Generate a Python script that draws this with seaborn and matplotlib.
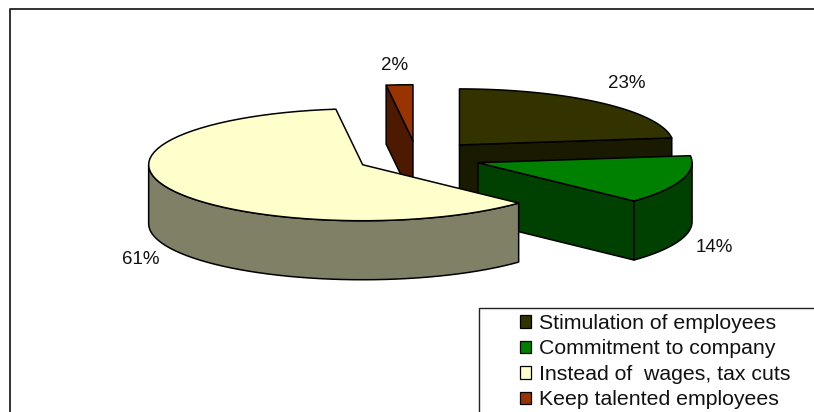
import numpy as np
import matplotlib
matplotlib.use('Agg')
import matplotlib.pyplot as plt
from matplotlib.patches import Patch
import seaborn as sns

categories = ['Stimulation of employees', 'Commitment to company',
              'Instead of  wages, tax cuts', 'Keep talented employees']
values = [23, 14, 61, 2]

top_colors = ['#333300', '#008000', '#FFFFCC', '#993300']
side_colors = ['#1A1A00', '#004000', '#808066', '#4D1A00']

sns.set_theme(style='white')
plt.rcParams['font.family'] = ['Liberation Sans', 'DejaVu Sans']

# pie geometry, in figure pixels
cx, cy = 417, 157.5
rx, ry = 214, 56
depth = 59
explode = [0.3, 0.3, 0.285, 0.3]

fig = plt.figure(figsize=(8.14, 4.12), dpi=100)
ax = fig.add_axes([0, 0, 1, 1])
ax.set_xlim(0, 814)
ax.set_ylim(412, 0)
ax.axis('off')


def point(x0, y0, ang):
    return x0 + rx * np.sin(ang), y0 - ry * np.cos(ang)


def poly(x, y, color, z):
    ax.fill(x, y, facecolor=color, edgecolor='black', linewidth=1.1,
            joinstyle='round', zorder=z)


# clockwise from 12 o'clock
ends = np.cumsum(values) / np.sum(values) * 2 * np.pi
starts = np.r_[0, ends[:-1]]
mids = (starts + ends) / 2
order = [0, 3, 1, 2]  # back to front

for z, i in enumerate(order):
    a0, a1 = starts[i], ends[i]
    ox = cx + explode[i] * rx * np.sin(mids[i])
    oy = cy - explode[i] * ry * np.cos(mids[i])
    base = 10 * z + 2

    # flat cut faces
    for ang in (a0, a1):
        ex, ey = point(ox, oy, ang)
        shows = (i == 0 and ang == a1) or (i == 1 and ang == a1) or (i == 3 and ang == a0)
        if shows:
            poly([ox, ex, ex, ox], [oy, ey, ey + depth, oy + depth], side_colors[i], base)

    # rim, only the part facing the viewer
    lo, hi = max(a0, np.pi / 2), min(a1, 3 * np.pi / 2)
    if lo < hi:
        t = np.linspace(lo, hi, 48)
        rimx, rimy = point(ox, oy, t)
        poly(np.r_[rimx, rimx[::-1]], np.r_[rimy, rimy[::-1] + depth], side_colors[i], base + 1)

    # top surface
    t = np.linspace(a0, a1, 64)
    arcx, arcy = point(ox, oy, t)
    poly(np.r_[ox, arcx], np.r_[oy, arcy], top_colors[i], base + 2)

# percent labels
pct_x = [627, 714, 141, 395]
pct_y = [83, 247, 259, 65]
for v, x, y in zip(values, pct_x, pct_y):
    ax.text(x, y, f'{v}%', ha='center', va='center', fontsize=13.5, color='#111111', zorder=60)

# chart border and legend box both run off the image
ax.plot([10, 10, 814], [412, 9, 9], color='#222222', lw=1.3, zorder=70)
ax.plot([478.5, 478.5, 814], [412, 308, 308], color='#222222', lw=1.0, zorder=70)

handles = [Patch(facecolor=c, edgecolor='black', linewidth=0.9) for c in top_colors]
leg = ax.legend(handles, categories, loc='upper left', bbox_to_anchor=(519.5 / 814, 1 - 314 / 412),
                fontsize=15.3, frameon=False, borderaxespad=0, borderpad=0,
                handlelength=0.52, handleheight=0.52, handletextpad=0.38, labelspacing=0.305,
                labelcolor='#111111')
leg.set_zorder(80)

fig.savefig('out.png', dpi=100)
